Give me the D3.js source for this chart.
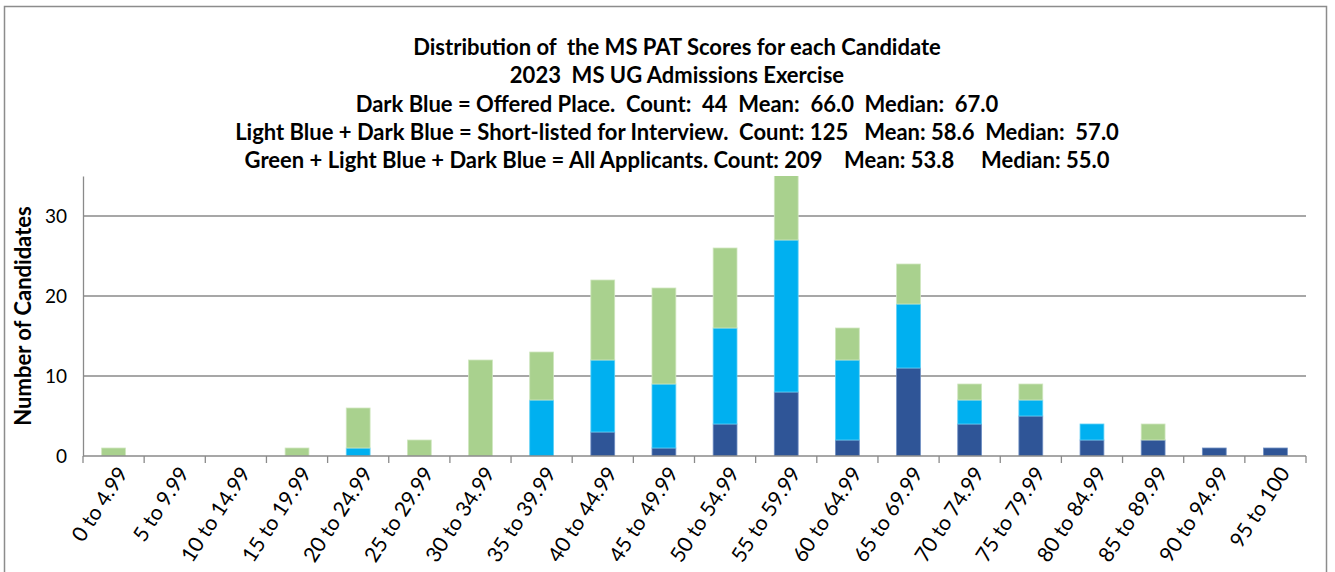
<!DOCTYPE html>
<html>
<head>
<meta charset="utf-8">
<script src="https://cdn.jsdelivr.net/npm/d3@7"></script>
<style>
  body { margin: 0; background: #fff; }
  #chart { width: 1335px; height: 572px; }
  text { font-family: Lato, "Open Sans", sans-serif; fill: #000; }
  .chart-title { font-weight: bold; font-size: 22px; white-space: pre; }
  .axis-label { font-weight: bold; font-size: 22px; }
  .tick-label { font-size: 19px; }
  .xlabel { font-size: 21px; }
</style>
</head>
<body>
<div id="chart"></div>
<script>
const bins = ["0 to 4.99", "5 to 9.99", "10 to 14.99", "15 to 19.99", "20 to 24.99",
    "25 to 29.99", "30 to 34.99", "35 to 39.99", "40 to 44.99", "45 to 49.99",
    "50 to 54.99", "55 to 59.99", "60 to 64.99", "65 to 69.99", "70 to 74.99",
    "75 to 79.99", "80 to 84.99", "85 to 89.99", "90 to 94.99", "95 to 100"];
// offered place
const darkBlue  = [0, 0, 0, 0, 0, 0, 0, 0, 3, 1, 4, 8, 2, 11, 4, 5, 2, 2, 1, 1];
// short-listed but not offered
const lightBlue = [0, 0, 0, 0, 1, 0, 0, 7, 9, 8, 12, 19, 10, 8, 3, 2, 2, 0, 0, 0];
// remaining applicants
const green     = [1, 0, 0, 1, 5, 2, 12, 6, 10, 12, 10, 10, 4, 5, 2, 2, 0, 2, 0, 0];
const yTicks = [0, 10, 20, 30];
const yMax = 35;

const titleLines = [
    "Distribution of  the MS PAT Scores for each Candidate",
    "2023  MS UG Admissions Exercise",
    "Dark Blue = Offered Place.  Count:  44  Mean:  66.0  Median:  67.0",
    "Light Blue + Dark Blue = Short-listed for Interview.  Count: 125   Mean: 58.6  Median:  57.0",
    "Green + Light Blue + Dark Blue = All Applicants. Count: 209    Mean: 53.8     Median: 55.0"
];

const seriesKeys = ["dark", "light", "green"];
const colors = {dark: "#2F5597", light: "#00B0F0", green: "#A9D18E"};
const strokes = {dark: "#6f8fc4", light: "#5fd0f6", green: "#cfe6bf"};

const data = bins.map((b, i) => ({bin: b, dark: darkBlue[i], light: lightBlue[i], green: green[i]}));

const W = 1335, H = 572;
const margin = {top: 176, right: 29, bottom: 116, left: 83};
const width = W - margin.left - margin.right;
const height = H - margin.top - margin.bottom;

const svg = d3.select("#chart").append("svg")
    .attr("width", W)
    .attr("height", H);

// outer chart border
svg.append("rect")
    .attr("x", 4.5).attr("y", 6.5)
    .attr("width", 1322).attr("height", 580)
    .attr("fill", "none")
    .attr("stroke", "#8c8c8c")
    .attr("stroke-width", 1.5);

svg.append("defs").append("clipPath")
    .attr("id", "plot-clip")
    .append("rect")
    .attr("width", width)
    .attr("height", height);

const g = svg.append("g")
    .attr("transform", `translate(${margin.left}, ${margin.top})`);

const x = d3.scaleBand()
    .domain(bins)
    .range([0, width])
    .paddingInner(0.61)
    .paddingOuter(0.305);

const xEdges = d3.scaleLinear()
    .domain([0, bins.length])
    .range([0, width]);

const y = d3.scaleLinear()
    .domain([0, yMax])
    .range([height, 0]);

// gridlines
g.append("g")
    .selectAll("line")
    .data(yTicks.filter(d => d > 0))
    .enter()
    .append("line")
    .attr("x1", 0).attr("x2", width)
    .attr("y1", d => y(d)).attr("y2", d => y(d))
    .attr("stroke", "#8a8a8a")
    .attr("stroke-width", 1.3);

// stacked bars
const stacked = d3.stack().keys(seriesKeys)(data);

const layers = g.append("g")
    .attr("clip-path", "url(#plot-clip)")
    .selectAll(".layer")
    .data(stacked)
    .enter()
    .append("g")
    .attr("class", "layer")
    .attr("fill", d => colors[d.key])
    .attr("stroke", d => strokes[d.key]);

layers.selectAll("rect")
    .data(d => d.filter(v => v[1] > v[0]))
    .enter()
    .append("rect")
    .attr("x", d => x(d.data.bin))
    .attr("y", d => y(d[1]))
    .attr("width", x.bandwidth())
    .attr("height", d => y(d[0]) - y(d[1]))
    .attr("stroke-width", 0.8);

// y axis
const yAxis = g.append("g")
    .call(d3.axisLeft(y).tickValues(yTicks).tickSize(0).tickPadding(16));
yAxis.select(".domain").attr("stroke", "#8a8a8a").attr("stroke-width", 1.3);
yAxis.selectAll(".tick text").attr("class", "tick-label").attr("dy", "0.35em");

// x axis with ticks at bin edges
const xAxisG = g.append("g")
    .attr("transform", `translate(0, ${height})`);
xAxisG.append("line")
    .attr("x1", 0).attr("x2", width)
    .attr("stroke", "#8a8a8a").attr("stroke-width", 1.3);
xAxisG.selectAll(".edge")
    .data(d3.range(bins.length + 1))
    .enter()
    .append("line")
    .attr("class", "edge")
    .attr("x1", d => xEdges(d)).attr("x2", d => xEdges(d))
    .attr("y1", 0).attr("y2", 7)
    .attr("stroke", "#8a8a8a").attr("stroke-width", 1.3);

xAxisG.selectAll(".xlabel")
    .data(bins)
    .enter()
    .append("text")
    .attr("class", "xlabel")
    .attr("text-anchor", "end")
    .attr("transform", d => `translate(${x(d) + x.bandwidth() / 2 + 9}, 13) rotate(-57)`)
    .attr("dy", "0.35em")
    .text(d => d);

// y axis title
svg.append("text")
    .attr("class", "axis-label")
    .attr("text-anchor", "middle")
    .attr("transform", `translate(31, ${margin.top + height / 2}) rotate(-90)`)
    .text("Number of Candidates");

// title lines
svg.append("g")
    .selectAll("text")
    .data(titleLines)
    .enter()
    .append("text")
    .attr("class", "chart-title")
    .attr("x", 677)
    .attr("y", (d, i) => 55 + i * 28.3)
    .attr("text-anchor", "middle")
    .attr("xml:space", "preserve")
    .text(d => d);
</script>
</body>
</html>
